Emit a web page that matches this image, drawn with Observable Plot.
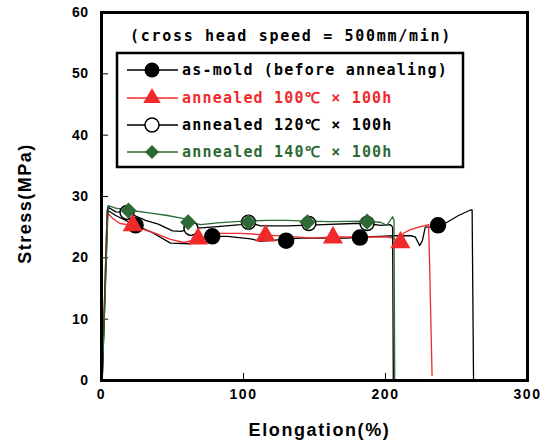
<!DOCTYPE html>
<html>
<head>
<meta charset="utf-8">
<script src="https://cdn.jsdelivr.net/npm/d3@7"></script>
<script src="https://cdn.jsdelivr.net/npm/@observablehq/plot@0.6"></script>
<style>
  html, body { margin: 0; padding: 0; background: white; }
  #chart { width: 555px; height: 444px; }
</style>
</head>
<body>
<div id="chart"></div>
<script>
// ---- axis ticks ----
const xTicks = [0, 100, 200, 300];
const yTicks = [0, 10, 20, 30, 40, 50, 60];
const xTickMarks = [100, 200];
const yTickMarks = [10, 20, 30, 40, 50];

// ---- texts ----
const titleText = "(cross head speed = 500mm/min)";
const xLabel = "Elongation(%)";
const yLabel = "Stress(MPa)";
const seriesNames = ["as-mold (before annealing)", "annealed 100℃ × 100h", "annealed 120℃ × 100h", "annealed 140℃ × 100h"];

// ---- curves (Elongation %, Stress MPa) ----
const asMoldX = [0.5, 4, 10, 24, 36, 48.6, 62.7, 78, 88.7, 105, 112, 128, 140, 173, 182, 196.5, 205.6, 217.6, 221, 224, 226, 228, 236.4, 243.4, 251.4, 259.9, 261, 262];
const asMoldY = [0, 27.8, 26.9, 25.3, 24.1, 22.4, 22.3, 23.5, 23.5, 23.1, 22.7, 23.0, 23.2, 23.2, 23.4, 23.5, 23.6, 23.6, 23.4, 22.0, 22.8, 25.0, 25.1, 25.8, 26.9, 27.8, 27.8, 0];

const a100X = [0.3, 4, 8, 13, 22, 27.5, 38, 48.6, 58, 68, 81.7, 98, 112, 131, 149, 163, 184.5, 201, 205, 210.5, 212.7, 217.6, 224.6, 230.3, 231, 232.8];
const a100Y = [0, 27.4, 26.4, 25.6, 25.3, 24.8, 24.0, 23.0, 22.5, 23.1, 24.0, 24.0, 23.8, 23.5, 23.2, 23.4, 23.4, 23.4, 23.2, 22.6, 24.0, 24.6, 25.1, 25.4, 19.6, 0.8];

const a120X = [0.5, 4.5, 10, 18, 31, 40, 50, 56, 63, 70, 81.7, 98, 103.5, 112, 131, 156, 177.5, 187, 196.5, 203.5, 205, 205.5];
const a120Y = [0, 28.3, 27.5, 27.4, 26.1, 25.5, 24.4, 24.3, 24.8, 24.9, 25.1, 25.4, 25.8, 25.2, 25.2, 25.4, 25.6, 25.6, 25.3, 25.4, 25.0, 0];

const a140X = [0.5, 4.7, 10, 19, 34.5, 46.5, 58, 61, 70, 81.7, 100, 117, 131, 145, 161, 186.6, 196.5, 201, 205, 206, 206.5];
const a140Y = [0, 28.5, 28.1, 27.8, 27.3, 26.9, 26.4, 25.8, 25.4, 25.7, 26.0, 26.1, 26.1, 26.0, 25.9, 26.0, 25.8, 25.3, 26.7, 26.2, 0];

// ---- markers ----
const asMoldMX = [24, 78, 130, 182, 237];
const asMoldMY = [25.3, 23.5, 22.8, 23.3, 25.3];
const a100MX = [22, 68, 115.5, 163, 210.5];
const a100MY = [25.3, 23.1, 23.6, 23.3, 22.5];
const a120MX = [18, 63, 103.5, 146, 187];
const a120MY = [27.4, 24.8, 25.8, 25.6, 25.6];
const a140MX = [19, 61, 103.5, 145, 187];
const a140MY = [27.7, 25.8, 25.8, 25.8, 25.9];

const RED = "#f02a2a";
const GREEN = "#2e6a35";

const pts = (xs, ys) => xs.map((x, i) => ({x, y: ys[i]}));
const asMold = pts(asMoldX, asMoldY), a100 = pts(a100X, a100Y), a120 = pts(a120X, a120Y), a140 = pts(a140X, a140Y);
const asMoldM = pts(asMoldMX, asMoldMY), a100M = pts(a100MX, a100MY), a120M = pts(a120MX, a120MY), a140M = pts(a140MX, a140MY);

const chart = Plot.plot({
  width: 555,
  height: 444,
  marginLeft: 101,
  marginRight: 28,
  marginTop: 12,
  marginBottom: 64,
  x: {domain: [0, 300]},
  y: {domain: [0, 60]},
  style: {fontFamily: "'Liberation Sans', Arial, sans-serif", fontWeight: "bold", color: "black", background: "white", overflow: "visible"},
  marks: [
    Plot.ruleY(yTickMarks, {y: d => d, x1: 0, x2: 5, stroke: "black", strokeWidth: 1}),
    Plot.ruleX(xTickMarks, {x: d => d, y1: 0, y2: 1.15, stroke: "black", strokeWidth: 1}),
    Plot.axisY({ticks: yTicks, tickSize: 0, tickPadding: 13, fontSize: 14, fontWeight: "bold", label: null}),
    Plot.axisX({ticks: xTicks, tickSize: 0, tickPadding: 9, fontSize: 14, fontWeight: "bold", label: null}),
    Plot.line(asMold, {x: "x", y: "y", stroke: "black", strokeWidth: 1.3}),
    Plot.line(a100, {x: "x", y: "y", stroke: RED, strokeWidth: 1.3}),
    Plot.line(a120, {x: "x", y: "y", stroke: "black", strokeWidth: 1.3}),
    Plot.line(a140, {x: "x", y: "y", stroke: GREEN, strokeWidth: 1.3}),
    Plot.dot(asMoldM, {x: "x", y: "y", r: 7.5, fill: "black", stroke: "black"}),
    Plot.dot(a120M, {x: "x", y: "y", r: 7, fill: "white", stroke: "black", strokeWidth: 1.5}),
    Plot.dot(a100M, {x: "x", y: "y", symbol: "triangle", r: 6.5, fill: RED, stroke: RED}),
    Plot.dot(a140M, {x: "x", y: "y", symbol: "diamond2", r: 6.3, fill: GREEN, stroke: GREEN}),
    Plot.frame({stroke: "black", strokeWidth: 3}),
    Plot.text([yLabel], {frameAnchor: "left", dx: -76, dy: 7, rotate: -90, textAnchor: "middle", lineAnchor: "middle", fontSize: 18, fontWeight: "bold"}),
    Plot.text([xLabel], {frameAnchor: "bottom", dx: 5, dy: 50, textAnchor: "middle", lineAnchor: "middle", fontSize: 18, fontWeight: "bold"})
  ]
});

const svg = d3.select(chart);
svg.selectAll('g[aria-label="x-axis tick label"] text').style("letter-spacing", "1.5px");
svg.selectAll('g[aria-label="y-axis tick label"] text').style("letter-spacing", "0.5px");
svg.selectAll("text").each(function() {
  const t = d3.select(this).text();
  if (t === xLabel) d3.select(this).style("letter-spacing", "1.6px");
  if (t === yLabel) d3.select(this).style("letter-spacing", "1.5px");
});

// ---- title and legend inside the plot frame ----
const mono = "'DejaVu Sans Mono', 'Liberation Mono', monospace";
const g = svg.append("g").attr("font-family", mono).attr("font-weight", "bold").attr("font-size", 15).attr("text-anchor", "start");
g.append("text").attr("x", 130).attr("y", 36).attr("dy", "0.35em").attr("text-anchor", "start")
  .style("letter-spacing", "1.7px").attr("fill", "black").text(titleText);
g.append("rect").attr("x", 117).attr("y", 53).attr("width", 346).attr("height", 114)
  .attr("fill", "white").attr("stroke", "black").attr("stroke-width", 2.5);
const legendColors = ["black", RED, "black", GREEN];
const legendSymbols = ["circle", "triangle", "open", "diamond"];
const rowY = [70, 98, 125, 152];
seriesNames.forEach((name, i) => {
  const y = rowY[i];
  g.append("line").attr("x1", 127).attr("x2", 178).attr("y1", y).attr("y2", y)
    .attr("stroke", legendColors[i]).attr("stroke-width", 1.3);
  const s = legendSymbols[i];
  if (s === "circle") {
    g.append("circle").attr("cx", 152).attr("cy", y).attr("r", 7.5).attr("fill", "black");
  } else if (s === "open") {
    g.append("circle").attr("cx", 152).attr("cy", y).attr("r", 7).attr("fill", "white").attr("stroke", "black").attr("stroke-width", 1.5);
  } else if (s === "triangle") {
    g.append("path").attr("transform", `translate(152,${y})`).attr("d", d3.symbol(d3.symbolTriangle, Math.PI * 6.5 * 6.5)()).attr("fill", RED);
  } else {
    g.append("path").attr("transform", `translate(152,${y})`).attr("d", d3.symbol(d3.symbolDiamond2, Math.PI * 6.3 * 6.3)()).attr("fill", GREEN);
  }
  g.append("text").attr("x", 182).attr("y", y).attr("dy", "0.35em").attr("text-anchor", "start")
    .style("letter-spacing", "1.2px").attr("fill", legendColors[i]).text(name);
});

document.getElementById("chart").appendChild(chart);
</script>
</body>
</html>
